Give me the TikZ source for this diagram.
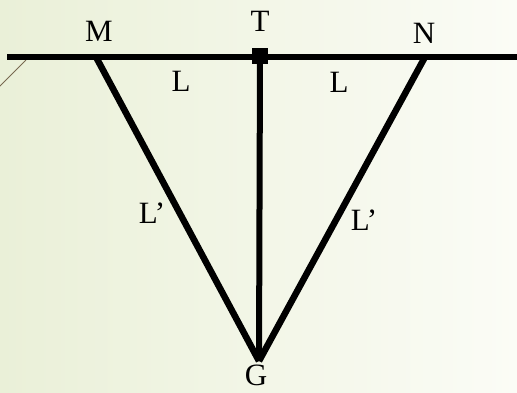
\documentclass[tikz,border=0pt]{standalone}
\usepackage{fontspec}
\setmainfont{Liberation Serif}
\usetikzlibrary{positioning}

\definecolor{bgleft}{RGB}{234,240,216}
\definecolor{bgright}{RGB}{251,252,246}
\definecolor{hairline}{RGB}{120,105,80}

\begin{document}
\begin{tikzpicture}[
		x=1pt,y=-1pt,
		font=\fontsize{31}{32}\selectfont,
		rod/.style={line width=6.5pt,black},
		leg/.style={line width=6.5pt,black,line join=miter},
		lbl/.style={inner sep=0pt},
		post/.style={fill=black,minimum size=16pt,inner sep=0pt}
		]

		% background
		\shade[left color=bgleft,right color=bgright] (0,0) rectangle (517,392);
		\useasboundingbox (0,0) rectangle (517,392);

		% points
		\coordinate (left) at (7,57);
		\coordinate (right) at (517,57);
		\coordinate (M) at (96,57);
		\coordinate (N) at (425,57);
		\coordinate (G) at (259,361);
		\coordinate (h1) at (26,60);
		\coordinate (h2) at (-2,88);

		\draw[hairline,line width=0.8pt] (h1)--(h2);
		\draw[rod] (left)--(right);
		\draw[leg] (M)--(G);
		\draw[leg] (N)--(G);
		\node[post] (T) at (260,56) {};
		\draw[line width=6pt] (T.center)--(G);

		% labels
		\node[lbl] (lM) at (99,31) {M};
		\node[lbl] (lT) at (260,21) {T};
		\node[lbl] (lN) at (424,33) {N};
		\node[lbl] (lL1) at (181,81) {L};
		\node[lbl] (lL2) at (339,82) {L};
		\node[lbl] (lL3) at (152,213) {L'};
		\node[lbl] (lL4) at (364,220) {L'};
		\node[lbl,anchor=base,text depth=0pt] (lG) at (256,385) {G};

	\end{tikzpicture}
\end{document}
